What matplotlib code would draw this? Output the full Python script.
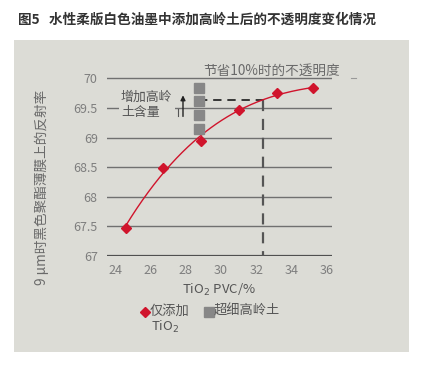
import numpy as np
import matplotlib
matplotlib.use("Agg")
import matplotlib.pyplot as plt
from matplotlib.lines import Line2D
from matplotlib.patches import Rectangle

plt.rcParams['font.family'] = ['Noto Sans CJK SC', 'DejaVu Sans']

# data
tio2_pvc = [24.6, 26.7, 28.87, 31.0, 33.15, 35.23]
reflect = [67.48, 68.48, 68.94, 69.47, 69.75, 69.83]
kaolin_x = [28.77, 28.77, 28.77, 28.77]
kaolin_y = [69.84, 69.61, 69.38, 69.14]
saving_x = 32.39
saving_y = 69.64
yticks = [67, 67.5, 68, 68.5, 69, 69.5, 70]
xticks = [24, 26, 28, 30, 32, 34, 36]

BG = "#dcdcd6"
GRID = "#707070"
TXT = "#7e7e7e"
RED = "#d0142c"
GREY = "#878787"

W, H = 423, 367
fig = plt.figure(figsize=(W / 100, H / 100), dpi=100)
fig.patch.set_facecolor("white")

# grey panel
fig.patches.append(Rectangle((14 / W, 1 - 352 / H), (409 - 14) / W, (352 - 40) / H,
                             transform=fig.transFigure, facecolor=BG, edgecolor="none",
                             zorder=-10))

fig.text(18 / W, 1 - 20 / H, "图5   水性柔版白色油墨中添加高岭土后的不透明度变化情况",
         fontsize=9.8, fontweight="bold", color="#333333", ha="left", va="center")

ax = fig.add_axes([106.7 / W, 1 - 256 / H, 225 / W, 3.3 * 59.23 / H])
ax.set_zorder(1)
ax.set_facecolor("none")
ax.set_xlim(23.53, 36.27)
ax.set_ylim(67, 70.3)
for s in ax.spines.values():
    s.set_visible(False)
ax.set_xticks(xticks)
ax.set_yticks(yticks)
ax.set_yticklabels(["67", "67.5", "68", "68.5", "69", "69.5", "70"])
ax.tick_params(length=0, colors=TXT, labelsize=9)
ax.tick_params(axis="x", pad=5.5)
ax.tick_params(axis="y", pad=6.5)

for v in yticks:
    if v == 67:
        ax.axhline(v, color="#505050", lw=1.6, zorder=1)
    else:
        ax.axhline(v, color=GRID, lw=1.0, zorder=1)

# fitted trend through the points
coef = np.polyfit(tio2_pvc, reflect, 3)
xs = np.linspace(tio2_pvc[0], tio2_pvc[-1], 200)
ax.plot(xs, np.polyval(coef, xs), color=RED, lw=1.0, zorder=3)
ax.plot(tio2_pvc, reflect, ls="none", marker="D", ms=5.5, color=RED, zorder=4)

ax.plot(kaolin_x, kaolin_y, ls="none", marker="s", ms=6.8, color=GREY, zorder=4)

# dashed guide lines
ax.plot([kaolin_x[0], saving_x], [saving_y, saving_y], color="#1a1a1a", lw=1.2,
        dashes=(5, 3.5), zorder=2)
ax.plot([saving_x, saving_x], [saving_y, 67], color="#555555", lw=1.6,
        dashes=(5, 3.5), zorder=2)

ax.text(29.0, 70.12, "节省10%时的不透明度", fontsize=9.8, color="#6a6a6a",
        ha="left", va="center")
ax.text(24.34, 69.55, "增加高岭\n土含量", fontsize=9.3, color="#555555", ha="left",
        va="center", linespacing=1.25,
        bbox=dict(facecolor=BG, edgecolor="none", pad=1.5), zorder=5)
ax.annotate("", xy=(27.85, 69.76), xytext=(27.85, 69.31),
            arrowprops=dict(arrowstyle="-|>", color="#222222", lw=1.0,
                            mutation_scale=7), zorder=5)
ax.plot([27.56, 27.56], [69.37, 69.48], color="#555555", lw=0.8, zorder=5)

ax.set_xlabel("TiO$_2$ PVC/%", fontsize=9.5, color="#555555", labelpad=4)
fig.text(41.5 / W, 1 - 187 / H, "9 μm时黑色聚酯薄膜上的反射率", fontsize=9.8,
         color="#6a6a6a", rotation=90, ha="center", va="center")

# stray mark right of the grid
fig.lines.append(Line2D([351 / W, 356 / W], [1 - 78 / H, 1 - 78 / H],
                        transform=fig.transFigure, color="#999999", lw=0.8))

# legend drawn by hand
fig.lines.append(Line2D([145 / W], [1 - 311.5 / H], transform=fig.transFigure,
                        marker="D", ms=5, color=RED, ls="none"))
fig.text(150 / W, 1 - 311.5 / H, "仅添加", fontsize=9.5, color="#555555",
         ha="left", va="center")
fig.text(150.5 / W, 1 - 327 / H, "TiO$_2$", fontsize=9.5, color="#555555",
         ha="left", va="center")
fig.lines.append(Line2D([208.5 / W], [1 - 311.5 / H], transform=fig.transFigure,
                        marker="s", ms=6.5, color=GREY, ls="none"))
fig.text(214 / W, 1 - 311.5 / H, "超细高岭土", fontsize=9.5, color="#555555",
         ha="left", va="center")

fig.savefig("out.png", dpi=100)
